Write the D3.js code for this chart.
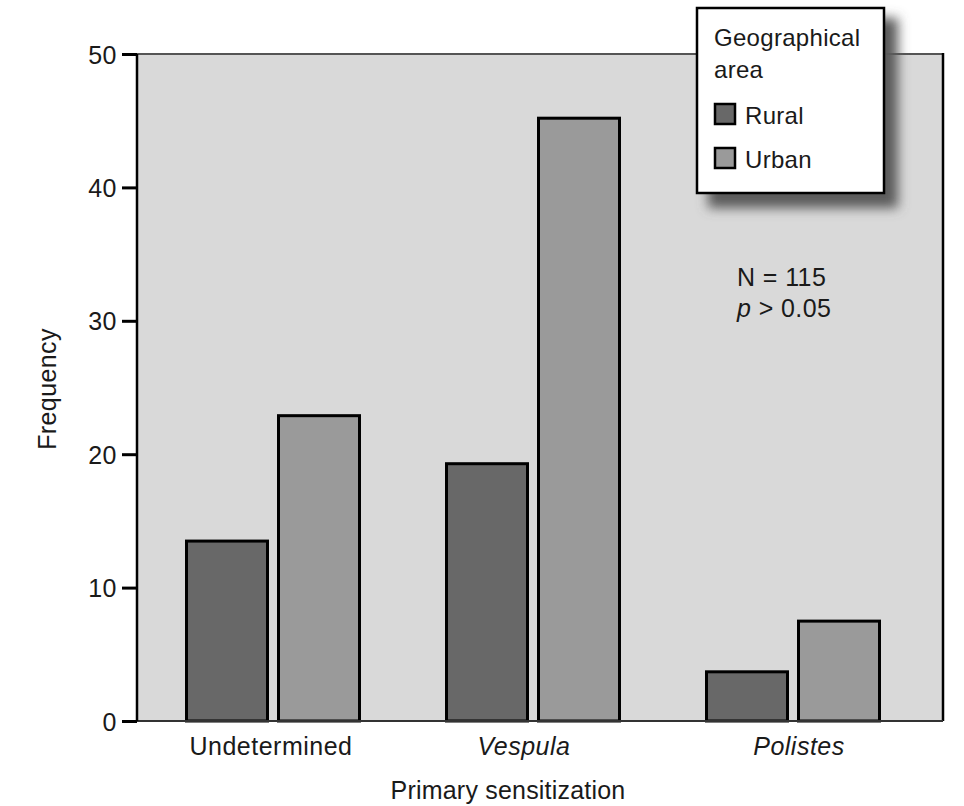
<!DOCTYPE html>
<html><head><meta charset="utf-8">
<script src="https://cdn.jsdelivr.net/npm/d3@7"></script>
<style>body{margin:0;background:#fff;} text{font-family:"Liberation Sans",Arial,sans-serif;fill:#1a1a1a;}</style>
</head><body><svg id="c" width="964" height="806"></svg>
<script>
const categories = ["Undetermined", "Vespula", "Polistes"];
const categoryItalic = [false, true, true];
const seriesNames = ["Rural", "Urban"];
const rural = [13.6, 19.4, 3.8];
const urban = [23.0, 45.3, 7.6];
const yTicks = [0, 10, 20, 30, 40, 50];
const colors = {Rural: "#686868", Urban: "#9a9a9a"};

const svg = d3.select("#c");
const L = 137, R = 943, T = 54, B = 721;
const fs = 24, fsAx = 25;

const y = d3.scaleLinear().domain([0, 50]).range([B, T]);
const x0 = d3.scaleBand().domain(categories).range([185, 881]).paddingInner(84/260).paddingOuter(0);
const x1 = d3.scaleBand().domain(seriesNames).range([0, x0.bandwidth()]).paddingInner(8/92).paddingOuter(0);

// plot background
svg.append("rect").attr("x", L).attr("y", T).attr("width", R - L).attr("height", B - T).attr("fill", "#d9d9d9");
svg.append("line").attr("x1", L).attr("x2", R).attr("y1", T).attr("y2", T).attr("stroke", "#555").attr("stroke-width", 2);
svg.append("line").attr("x1", R).attr("x2", R).attr("y1", T - 1).attr("y2", B).attr("stroke", "#000").attr("stroke-width", 2.5);

// bars
const data = categories.map((c, i) => ({cat: c, vals: [{s: "Rural", v: rural[i]}, {s: "Urban", v: urban[i]}]}));
const g = svg.append("g");
data.forEach(d => {
  d.vals.forEach(e => {
    g.append("rect")
      .attr("x", x0(d.cat) + x1(e.s) + 1.5)
      .attr("y", y(e.v) + 1.5)
      .attr("width", x1.bandwidth() - 3)
      .attr("height", y(0) - y(e.v) - 1.5)
      .attr("fill", colors[e.s])
      .attr("stroke", "#000").attr("stroke-width", 3);
  });
});

// bottom axis line
svg.append("line").attr("x1", L).attr("x2", R).attr("y1", B).attr("y2", B).attr("stroke", "#333").attr("stroke-width", 2);

// y axis
const yAxis = d3.axisLeft(y).tickValues(yTicks).tickSize(15).tickPadding(5);
const ya = svg.append("g").attr("transform", `translate(${L},0)`).call(yAxis);
ya.select(".domain").attr("stroke", "#000").attr("stroke-width", 2.5).attr("d", `M0,${B}V${T}`);
ya.selectAll(".tick line").attr("stroke", "#000").attr("stroke-width", 3);
ya.selectAll(".tick text").style("font-family", '"Liberation Sans",Arial,sans-serif').style("font-size", fsAx + "px").style("letter-spacing", "0.5px").attr("fill", "#1a1a1a").attr("dy", "0.36em");

// category labels
categories.forEach((c, i) => {
  svg.append("text").attr("x", x0(c) + x0.bandwidth() / 2 + (i === 1 ? -9 : i === 2 ? 6 : -2)).attr("y", 755)
    .attr("text-anchor", "middle").style("font-size", fsAx + "px").style("letter-spacing", "0.5px")
    .style("font-style", categoryItalic[i] ? "italic" : "normal").text(c);
});

// axis titles
svg.append("text").attr("x", 508).attr("y", 799).attr("text-anchor", "middle").style("font-size", fsAx + "px").style("letter-spacing", "0.2px").text("Primary sensitization");
svg.append("text").attr("transform", "translate(56,389) rotate(-90)").attr("text-anchor", "middle").style("font-size", fsAx + "px").style("letter-spacing", "0.4px").text("Frequency");

// annotation
svg.append("text").attr("x", 737).attr("y", 286).style("font-size", fsAx + "px").style("letter-spacing", "0.4px").text("N = 115");
const p = svg.append("text").attr("x", 737).attr("y", 317).style("font-size", fsAx + "px").style("letter-spacing", "0.4px");
p.append("tspan").style("font-style", "italic").text("p");
p.append("tspan").text(" > 0.05");

// legend
const defs = svg.append("defs");
const f = defs.append("filter").attr("id", "sh").attr("x", "-20%").attr("y", "-20%").attr("width", "150%").attr("height", "150%");
f.append("feGaussianBlur").attr("stdDeviation", 6);
svg.append("rect").attr("x", 708).attr("y", 18).attr("width", 190).attr("height", 190).attr("fill", "#5a5a5a").attr("filter", "url(#sh)");
svg.append("rect").attr("x", 697).attr("y", 8).attr("width", 187).attr("height", 185).attr("fill", "#fff").attr("stroke", "#000").attr("stroke-width", 2.5);
svg.append("text").attr("x", 714).attr("y", 46).style("font-size", fs + "px").style("letter-spacing", "0.3px").text("Geographical");
svg.append("text").attr("x", 714).attr("y", 78).style("font-size", fs + "px").style("letter-spacing", "0.3px").text("area");
seriesNames.forEach((s, i) => {
  const yy = 104 + i * 44;
  svg.append("rect").attr("x", 715).attr("y", yy).attr("width", 20).attr("height", 20).attr("fill", colors[s]).attr("stroke", "#000").attr("stroke-width", 2.5);
  svg.append("text").attr("x", 745).attr("y", yy + 20).style("font-size", fs + "px").style("letter-spacing", "0.3px").text(s);
});
</script></body></html>
